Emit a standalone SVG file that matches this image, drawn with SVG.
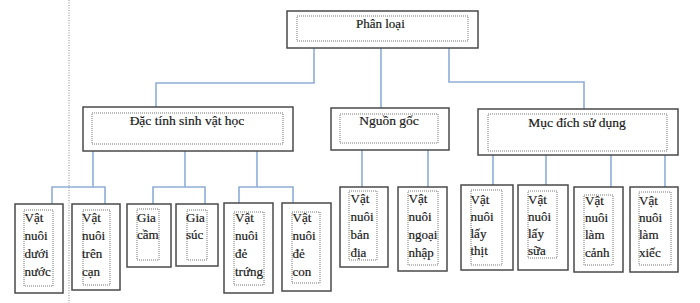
<svg xmlns="http://www.w3.org/2000/svg" width="700" height="303" viewBox="0 0 700 303">
<style>
.o{fill:#fff;stroke:#4a4a4a;stroke-width:1.5}
.i{fill:none;stroke:#777;stroke-width:1;stroke-dasharray:1,1}
.t{font-family:"Liberation Serif","Times New Roman",serif;font-size:13px;fill:#1a1a1a;stroke:#1a1a1a;stroke-width:0.2}
.h{font-family:"Liberation Serif","Times New Roman",serif;font-size:13.5px;fill:#1a1a1a;stroke:#1a1a1a;stroke-width:0.2;text-anchor:middle}
.c{fill:none;stroke:#8eadd6;stroke-width:1.6}
</style>
<rect width="700" height="303" fill="#fff"/>
<line x1="69" y1="0" x2="69" y2="303" stroke="#888" stroke-width="1" stroke-dasharray="1,1.5"/>
<g id="connectors">
<polyline class="c" points="314,48 314,83 156,83 156,107"/>
<polyline class="c" points="381,48 381,108"/>
<polyline class="c" points="449,48 449,82 584,82 584,109"/>
<polyline class="c" points="93,151 93,187"/>
<polyline class="c" points="52,204 52,187 105,187 105,204"/>
<polyline class="c" points="185,151 185,187"/>
<polyline class="c" points="153,204 153,187 205,187 205,204"/>
<polyline class="c" points="257,151 257,187"/>
<polyline class="c" points="239,203 239,187 293,187 293,203"/>
<line class="c" x1="362" y1="150" x2="362" y2="187"/>
<line class="c" x1="428" y1="150" x2="428" y2="187"/>
<line class="c" x1="493" y1="155" x2="493" y2="185"/>
<line class="c" x1="546" y1="155" x2="546" y2="185"/>
<line class="c" x1="611" y1="155" x2="611" y2="187"/>
<line class="c" x1="665" y1="155" x2="665" y2="187"/>
</g>
<g id="phanloai">
<rect class="o" x="287" y="11" width="191" height="37"/>
<rect class="i" x="297" y="16" width="171" height="25"/>
<text class="t" x="356" y="28">Phân loại</text>
</g>
<g id="dactinh">
<rect class="o" x="83" y="107" width="210" height="44"/>
<rect class="i" x="92" y="113" width="191" height="31"/>
<text class="h" x="187" y="125">Đặc tính sinh vật học</text>
</g>
<g id="nguongoc">
<rect class="o" x="331" y="108" width="118" height="42"/>
<rect class="i" x="340" y="114" width="98" height="29"/>
<text class="h" x="389" y="125">Nguồn gốc</text>
</g>
<g id="mucdich">
<rect class="o" x="478" y="109" width="200" height="46"/>
<rect class="i" x="488" y="114" width="179" height="37"/>
<text class="h" x="577" y="127">Mục đích sử dụng</text>
</g>
<g id="n1">
<rect class="o" x="15" y="204" width="48" height="89"/>
<rect class="i" x="24" y="210" width="29" height="76"/>
<text class="t" x="24.5" y="222">Vật<tspan x="24.5" y="240">nuôi</tspan><tspan x="24.5" y="258">dưới</tspan><tspan x="24.5" y="276">nước</tspan></text>
</g>
<g id="n2">
<rect class="o" x="72" y="204" width="48" height="86"/>
<rect class="i" x="83" y="210" width="27" height="75"/>
<text class="t" x="82" y="222">Vật<tspan x="82" y="240">nuôi</tspan><tspan x="82" y="258">trên</tspan><tspan x="82" y="276">cạn</tspan></text>
</g>
<g id="n3">
<rect class="o" x="127" y="204" width="44" height="63"/>
<rect class="i" x="137" y="209" width="22" height="51"/>
<text class="t" x="137" y="222">Gia<tspan x="137" y="239">cầm</tspan></text>
</g>
<g id="n4">
<rect class="o" x="176" y="204" width="42" height="62"/>
<rect class="i" x="187" y="210" width="20" height="50"/>
<text class="t" x="186" y="222">Gia<tspan x="186" y="239">súc</tspan></text>
</g>
<g id="n5">
<rect class="o" x="224" y="203" width="49" height="90"/>
<rect class="i" x="234" y="212" width="30" height="73"/>
<text class="t" x="235" y="222">Vật<tspan x="235" y="240">nuôi</tspan><tspan x="235" y="258">đẻ</tspan><tspan x="235" y="276">trứng</tspan></text>
</g>
<g id="n6">
<rect class="o" x="282" y="203" width="49" height="88"/>
<rect class="i" x="292" y="212" width="28" height="71"/>
<text class="t" x="292.5" y="222">Vật<tspan x="292.5" y="240">nuôi</tspan><tspan x="292.5" y="258">đẻ</tspan><tspan x="292.5" y="276">con</tspan></text>
</g>
<g id="n7">
<rect class="o" x="340" y="187" width="48" height="80"/>
<rect class="i" x="349" y="191" width="28" height="69"/>
<text class="t" x="350.5" y="203">Vật<tspan x="350.5" y="221">nuôi</tspan><tspan x="350.5" y="239">bản</tspan><tspan x="350.5" y="257">địa</tspan></text>
</g>
<g id="n8">
<rect class="o" x="398" y="187" width="49" height="84"/>
<rect class="i" x="408" y="191" width="30" height="74"/>
<text class="t" x="408.5" y="203">Vật<tspan x="408.5" y="221">nuôi</tspan><tspan x="408.5" y="239">ngoại</tspan><tspan x="408.5" y="257">nhập</tspan></text>
</g>
<g id="n9">
<rect class="o" x="461" y="185" width="52" height="85"/>
<rect class="i" x="471" y="190" width="31" height="75"/>
<text class="t" x="470.5" y="204">Vật<tspan x="470.5" y="221">nuôi</tspan><tspan x="470.5" y="238">lấy</tspan><tspan x="470.5" y="255">thịt</tspan></text>
</g>
<g id="n10">
<rect class="o" x="518" y="185" width="50" height="85"/>
<rect class="i" x="528" y="191" width="29" height="67"/>
<text class="t" x="528" y="204">Vật<tspan x="528" y="221">nuôi</tspan><tspan x="528" y="238">lấy</tspan><tspan x="528" y="255">sữa</tspan></text>
</g>
<g id="n11">
<rect class="o" x="574" y="187" width="49" height="85"/>
<rect class="i" x="584" y="195" width="29" height="70"/>
<text class="t" x="585" y="205">Vật<tspan x="585" y="222">nuôi</tspan><tspan x="585" y="239">làm</tspan><tspan x="585" y="257">cảnh</tspan></text>
</g>
<g id="n12">
<rect class="o" x="630" y="187" width="48" height="85"/>
<rect class="i" x="639" y="192" width="32" height="73"/>
<text class="t" x="639" y="205">Vật<tspan x="639" y="222">nuôi</tspan><tspan x="639" y="239">làm</tspan><tspan x="639" y="257">xiếc</tspan></text>
</g>
</svg>
